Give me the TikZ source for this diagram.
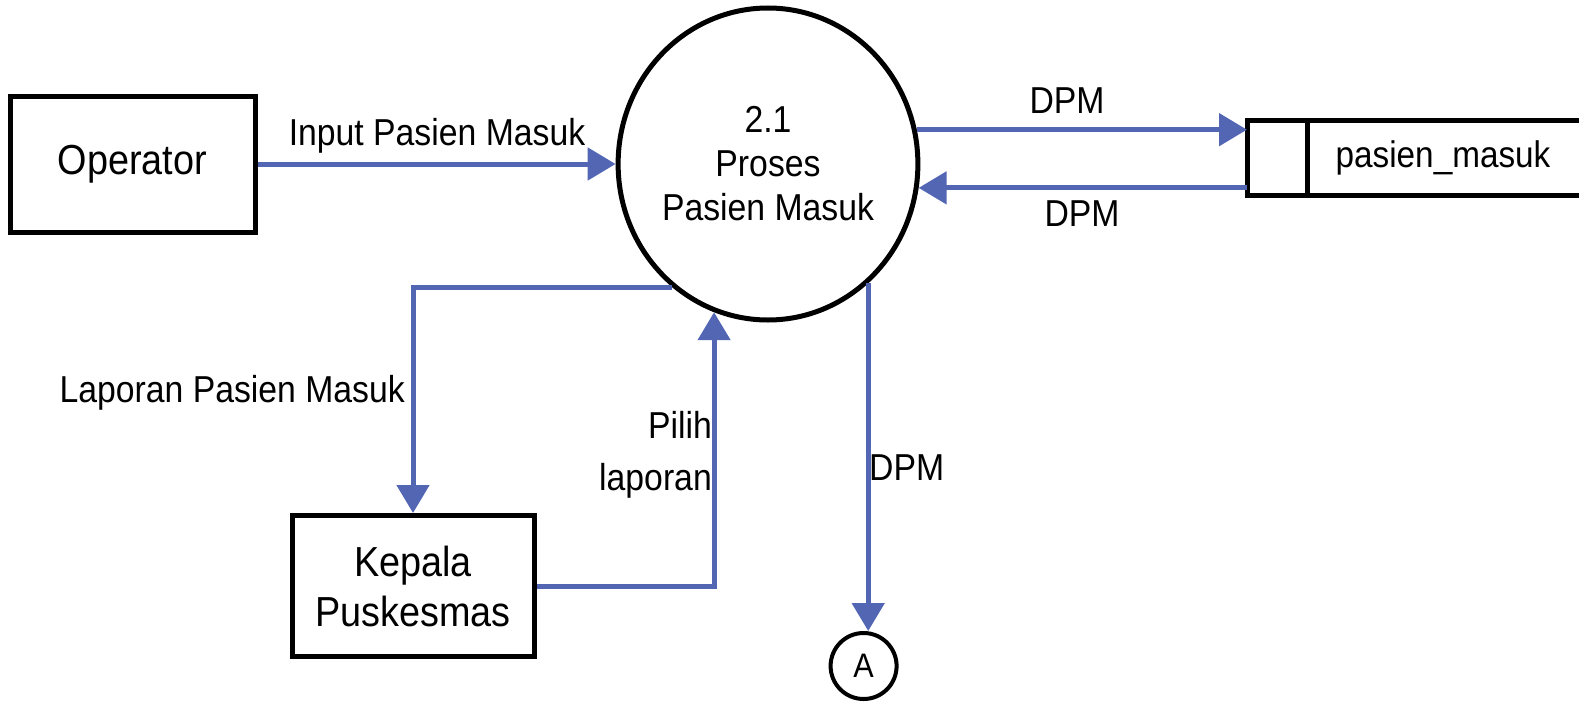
\documentclass[tikz,border=0pt]{standalone}
\usepackage{fontspec}
\setmainfont[FakeStretch=0.9]{Liberation Sans}
\usetikzlibrary{arrows.meta,shapes.geometric,calc}
\definecolor{flowblue}{RGB}{82,102,180}
\begin{document}
\begin{tikzpicture}[x=1pt,y=-1pt,
  entity/.style={draw=black,line width=5pt,rectangle,inner sep=0pt,align=center,font=\fontsize{42}{50}\selectfont},
  proc/.style={draw=black,line width=5pt,ellipse,inner sep=0pt,minimum width=280pt,minimum height=312pt,align=center,font=\fontsize{37.5}{44}\selectfont},
  flow/.style={draw=flowblue,line width=5pt,-{Triangle[length=28pt,width=32pt]}},
  lbl/.style={inner sep=0pt,font=\fontsize{37.5}{52}\selectfont},
  edge/.style={draw=black,line width=5pt}]
\useasboundingbox (0,0) rectangle (1579,704);
\node[entity,minimum width=245pt,minimum height=136pt] (O) at (132.5,164) {Operator};
\node[proc] (P) at (768,164) {2.1\\Proses\\Pasien Masuk};
\node[entity,minimum width=242pt,minimum height=141pt] (K) at (413,586) {Kepala\\Puskesmas};
\node[inner sep=0pt,minimum width=360pt,minimum height=74pt,anchor=west] (S) at (1247,158) {};
\node[lbl,font=\fontsize{37}{40}\selectfont] (Sname) at (1443,158) {pasien\_masuk};
\draw[edge] (S.north east) -- (S.north west) -- (S.south west) -- (S.south east);
\coordinate (D1) at ($(S.north west)+(60,0)$);
\coordinate (D2) at ($(S.south west)+(60,0)$);
\draw[edge] (D1) -- (D2);
\node[circle,draw=black,line width=4pt,minimum size=66pt,inner sep=0pt,font=\fontsize{34}{36}\selectfont] (A) at (863.6,666) {A};
% flows
\draw[flow] (O.east) -- (P.west);
\node[lbl] (l1) at (437,136) {Input Pasien Masuk};
\draw[flow] (P.13.5) -- (P.13.5 -| S.west);
\node[lbl] (l2) at (1067,101) {DPM};
\draw[flow] (S.west |- P.351) -- (P.351);
\node[lbl] (l3) at (1082,214) {DPM};
\draw[flow] (P.232) -| (K.north);
\node[lbl,anchor=east] (l4) at (405,393) {Laporan Pasien Masuk};
\draw[flow] (K.east) -| (P.250.6);
\node[lbl,anchor=east,align=right] (l5) at (712,455) {Pilih\\laporan};
\draw[flow] (P.310) -- (P.310 |- A.north);
\node[lbl,anchor=west] (l6) at (869,468) {DPM};
\end{tikzpicture}
\end{document}
